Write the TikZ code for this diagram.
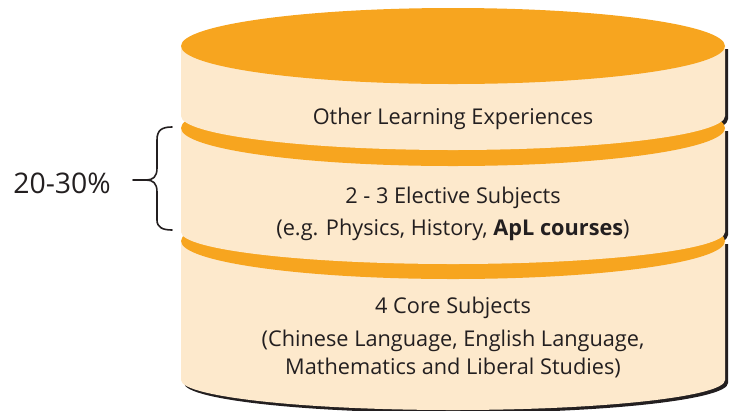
\documentclass[tikz,border=0pt]{standalone}
\usepackage{fontspec}
\setmainfont{Open Sans}
\definecolor{orng}{HTML}{F7A51F}
\definecolor{cream}{HTML}{FDE9CC}
\definecolor{ink}{HTML}{231F20}
\newcommand\segbody[3]{(181,#1) -- (181,#2) arc[start angle=180, end angle=0, x radius=272, y radius=#3] -- (725,#1) -- cycle}
\begin{document}
\begin{tikzpicture}[x=1bp,y=-1bp,
  lbl/.style={anchor=base, text=ink, inner sep=0pt, font=\fontsize{21.8}{25}\selectfont},
  pct/.style={anchor=base, text=ink, inner sep=0pt, font=\fontsize{28.5}{32}\selectfont},
  shadowfill/.style={fill=ink},
  bodyfill/.style={fill=cream},
  topfill/.style={fill=orng},
  bracestyle/.style={draw=ink, line width=1.6bp, line cap=round, line join=round}]
\useasboundingbox (0,0) rectangle (729,410);
% shadows
\begin{scope}
  \clip (453,0) rectangle (740,420);
  \fill[shadowfill, shift={(3,3)}] \segbody{46}{116}{34};
  \fill[shadowfill, shift={(3,3)}] \segbody{128}{232}{32};
\end{scope}
\fill[shadowfill, shift={(3,3)}] \segbody{241}{380}{30};
% bottom segment
\fill[bodyfill] \segbody{241}{380}{30};
\fill[topfill] (453,241) ellipse[x radius=272, y radius=38];
% middle segment
\fill[bodyfill] \segbody{128}{232}{32};
\fill[topfill] (453,128) ellipse[x radius=272, y radius=38];
% top segment
\fill[bodyfill] \segbody{46}{116}{34};
\fill[topfill] (453,46) ellipse[x radius=272, y radius=38];
% labels
\node[lbl] (ole) at (453,124) {Other Learning Experiences};
\node[lbl] (el1) at (453,203) {2 - 3 Elective Subjects};
\node[lbl] (el2) at (453,235) {(e.g. Physics, History, \textbf{ApL courses})};
\node[lbl] (co1) at (453,313) {4 Core Subjects};
\node[lbl] (co2) at (453,346) {(Chinese Language, English Language,};
\node[lbl] (co3) at (453,374) {Mathematics and Liberal Studies)};
\node[pct] (pc) at (62,193) {20-30\%};
% brace
\coordinate (bt) at (172,127);
\coordinate (bb) at (172,230);
\coordinate (btip) at (146,180);
\coordinate (bstub) at (133,180);
\draw[bracestyle] (bt) .. controls (162,127) and (157,130) .. (157,140) -- (157,168) .. controls (157,177) and (153,180) .. (btip) .. controls (153,180) and (157,183) .. (157,192) -- (157,220) .. controls (157,227) and (162,230) .. (bb);
\draw[bracestyle] (bstub) -- (btip);
\end{tikzpicture}
\end{document}
